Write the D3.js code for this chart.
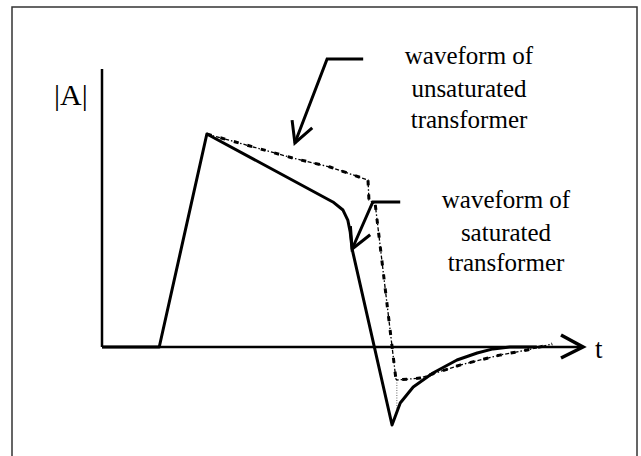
<!DOCTYPE html>
<html>
<head>
<meta charset="utf-8">
<script src="https://cdn.jsdelivr.net/npm/d3@7"></script>
<style>
  html, body { margin: 0; padding: 0; background: #fff; }
  svg { display: block; }
  text { font-family: "Liberation Serif", "Times New Roman", serif; fill: #000; }
</style>
</head>
<body>
<div id="chart"></div>
<script>
// waveform values: t (0..100), |A| (peak = 100)
var saturatedT = [0, 11.9, 21.8, 48.0, 50.1, 51.1, 51.6, 52.0, 60.3, 62.0, 64.7, 68.8, 73.8, 78.0, 81.3, 84.8, 90.4];
var saturatedA = [0, 0, 100, 68.1, 64.3, 59.6, 54.0, 46.0, -36.6, -26.3, -18.8, -12.2, -6.1, -2.8, -0.9, 0, 0];

var unsaturatedT = [21.8, 39.7, 47.4, 55.3, 55.5, 56.8, 61.1, 61.3, 66.1, 74.4, 82.7, 88.4, 93.6];
var unsaturatedA = [100, 88.7, 84.5, 78.4, 69.0, 67.1, -15.0, -15.5, -14.6, -8.5, -3.8, -1.4, 1.4];

// thin dotted drop at the unsaturated minimum
var dropT = [61.3, 61.3];
var dropA = [-15.5, -29.0];

// annotation arrows: leader end, elbow, tip
var arrowUnsatT = [54.3, 46.8, 40.1];
var arrowUnsatA = [135.2, 135.2, 95.8];
var arrowSatT = [62.0, 56.3, 52.0];
var arrowSatA = [68.1, 68.1, 46.0];

var labelUnsat = ["waveform of", "unsaturated", "transformer"];
var labelSat = ["waveform of", "saturated", "transformer"];
var yLabel = "|A|";
var xLabel = "t";

var width = 641, height = 456;

var svg = d3.select("#chart").append("svg")
    .attr("width", width)
    .attr("height", height);

// frame (runs off the bottom of the picture)
svg.append("rect")
    .attr("x", 12).attr("y", 7)
    .attr("width", 625).attr("height", 470)
    .attr("fill", "none")
    .attr("stroke", "#333")
    .attr("stroke-width", 1.5);

var x = d3.scaleLinear().domain([0, 100]).range([102, 583]);
var y = d3.scaleLinear().domain([0, 100]).range([347, 134]);

function pts(ts, as) {
    return ts.map(function (t, i) { return [x(t), y(as[i])]; });
}
var line = d3.line();

// axes
var yTop = y(130.5);
svg.append("line")
    .attr("x1", x(0)).attr("y1", y(0))
    .attr("x2", x(0)).attr("y2", yTop)
    .attr("stroke", "#000").attr("stroke-width", 2.5);
svg.append("line")
    .attr("x1", x(0)).attr("y1", y(0))
    .attr("x2", x(100)).attr("y2", y(0))
    .attr("stroke", "#000").attr("stroke-width", 2.5);
// x axis arrow head
svg.append("path")
    .attr("d", line([[x(100) - 22, y(0) - 12], [x(100), y(0)], [x(100) - 22, y(0) + 11]]))
    .attr("fill", "none")
    .attr("stroke", "#000").attr("stroke-width", 3.5);

svg.append("text")
    .attr("x", 54).attr("y", 105)
    .attr("font-size", 30)
    .text(yLabel);
svg.append("text")
    .attr("x", x(100) + 12).attr("y", y(0) + 11)
    .attr("font-size", 27)
    .text(xLabel);

// unsaturated waveform (thin dash-dot with heavier dashes)
var unsatPath = line(pts(unsaturatedT, unsaturatedA));
svg.append("path")
    .attr("d", unsatPath)
    .attr("fill", "none")
    .attr("stroke", "#000")
    .attr("stroke-width", 1.3)
    .attr("stroke-dasharray", "4,2,1.5,2");
svg.append("path")
    .attr("d", unsatPath)
    .attr("fill", "none")
    .attr("stroke", "#000")
    .attr("stroke-width", 3)
    .attr("stroke-dasharray", "5,9");
svg.append("path")
    .attr("d", line(pts(dropT, dropA)))
    .attr("fill", "none")
    .attr("stroke", "#666")
    .attr("stroke-width", 1)
    .attr("stroke-dasharray", "1,1.5");

// saturated waveform (solid)
svg.append("path")
    .attr("d", line(pts(saturatedT, saturatedA)))
    .attr("fill", "none")
    .attr("stroke", "#000")
    .attr("stroke-width", 3)
    .attr("stroke-linejoin", "round");

// annotation arrows
function drawArrow(ts, as) {
    var p = pts(ts, as);
    svg.append("path")
        .attr("d", line(p))
        .attr("fill", "none")
        .attr("stroke", "#000").attr("stroke-width", 3);
    var tip = p[p.length - 1], from = p[p.length - 2];
    var ang = Math.atan2(from[1] - tip[1], from[0] - tip[0]);
    var len = 23, spread = 28 * Math.PI / 180;
    var b1 = [tip[0] + len * Math.cos(ang - spread), tip[1] + len * Math.sin(ang - spread)];
    var b2 = [tip[0] + len * Math.cos(ang + spread), tip[1] + len * Math.sin(ang + spread)];
    svg.append("path")
        .attr("d", line([b1, tip, b2]))
        .attr("fill", "none")
        .attr("stroke", "#000").attr("stroke-width", 3);
}
drawArrow(arrowUnsatT, arrowUnsatA);
drawArrow(arrowSatT, arrowSatA);

// labels
function drawLabel(lines, cx, baselines) {
    svg.append("g").selectAll("text")
        .data(lines)
        .enter().append("text")
        .attr("x", cx)
        .attr("y", function (d, i) { return baselines[i]; })
        .attr("text-anchor", "middle")
        .attr("font-size", 25)
        .text(function (d) { return d; });
}
drawLabel(labelUnsat, 469, [64, 97, 128]);
drawLabel(labelSat, 506, [208, 241, 271]);
</script>
</body>
</html>
